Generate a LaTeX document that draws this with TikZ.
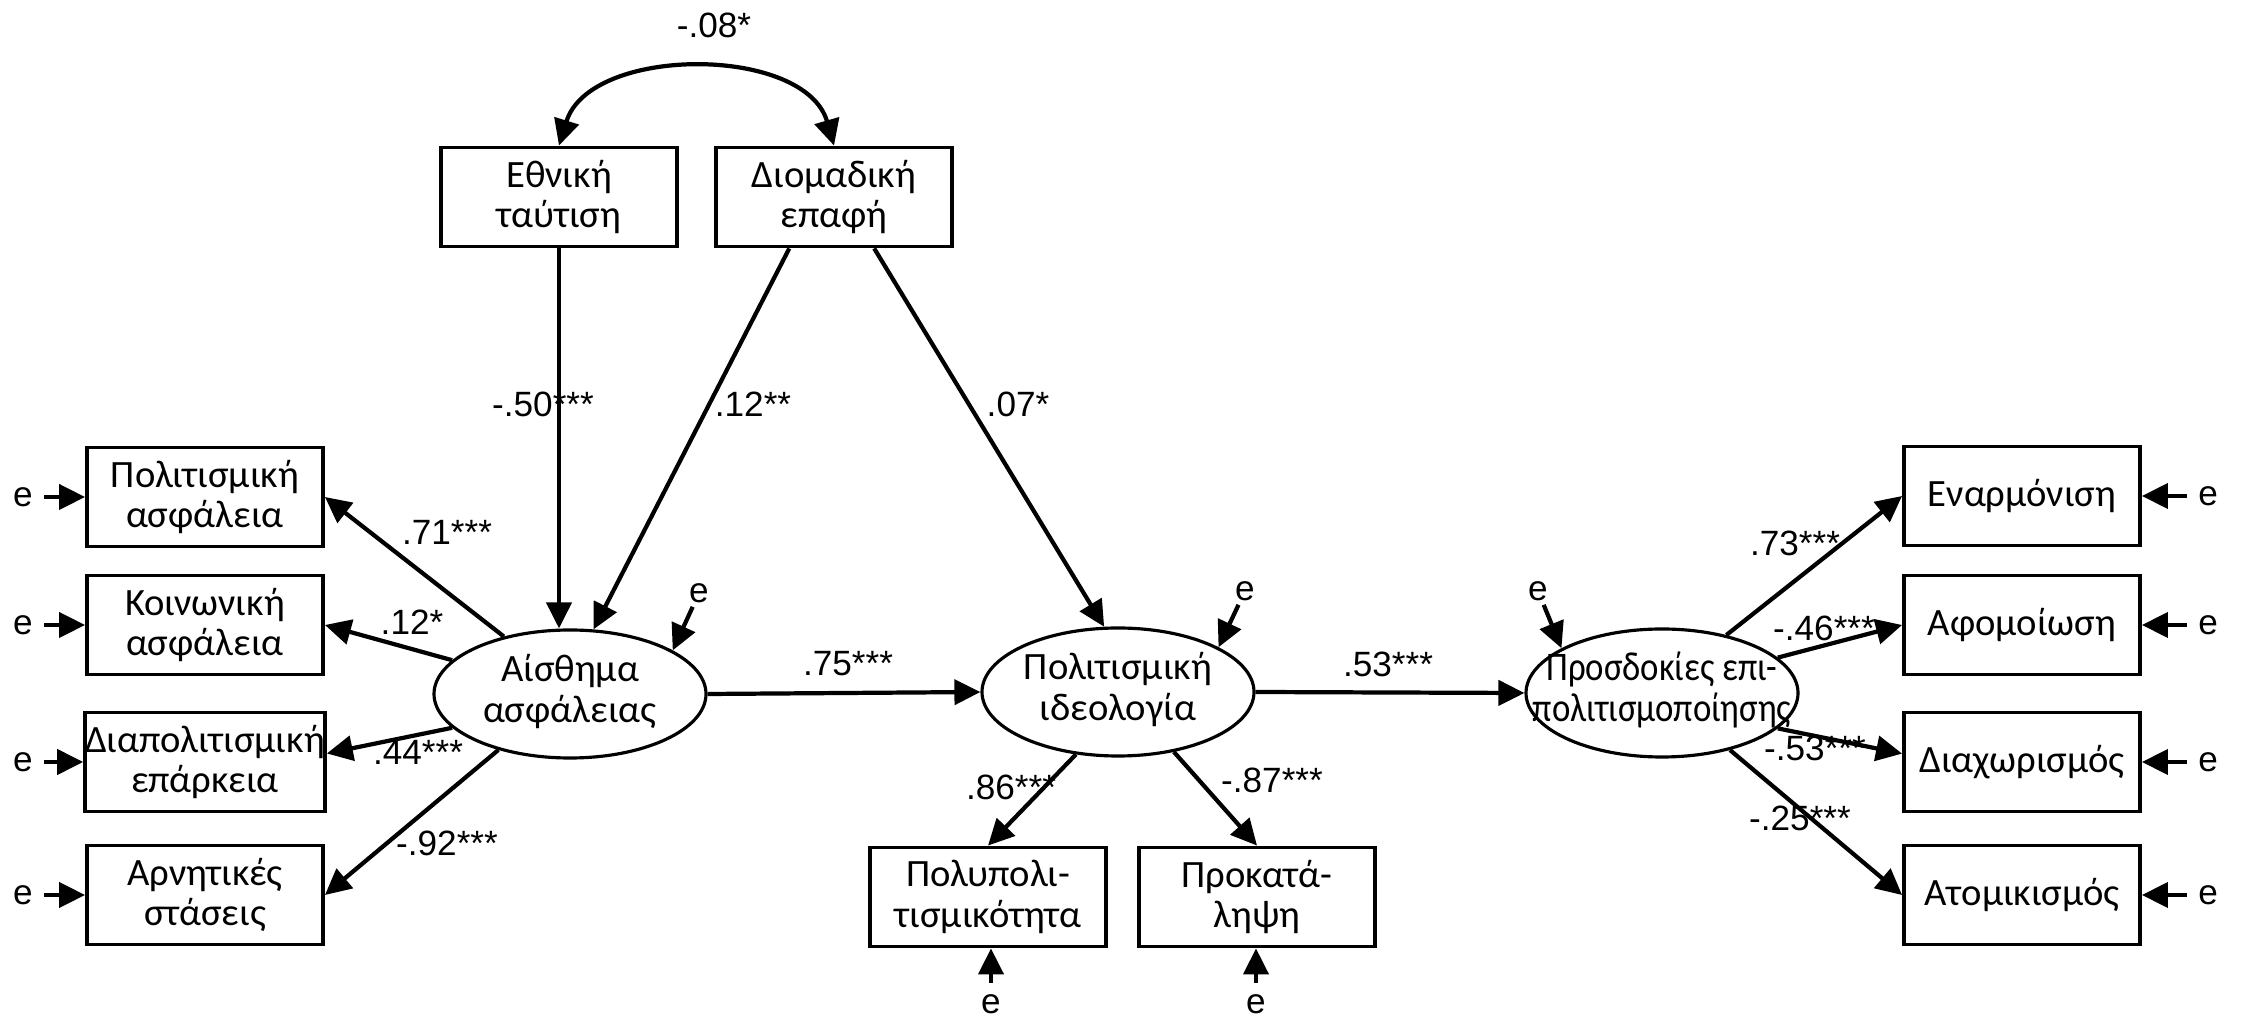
\documentclass[tikz,border=0pt]{standalone}
\usepackage{fontspec}
\usepackage{graphicx}
\setmainfont{Liberation Sans}
\newfontfamily\grfont{Carlito}
\usetikzlibrary{arrows.meta,shapes.geometric}
\newcommand{\intwo}[1]{\makebox[0pt]{\begin{tabular}{@{}c@{}}#1\end{tabular}}}

\begin{document}
\begin{tikzpicture}[x=0.1mm,y=-0.1mm,>={Triangle[length=2.6mm,width=2.5mm]},
    box/.style={draw,line width=1.1pt,minimum width=23.6mm,minimum height=9.9mm,inner sep=0pt,align=center,font=\grfont\fontsize{11}{11.5}\selectfont},
    lat/.style={draw,ellipse,line width=0.9pt,minimum width=27.2mm,minimum height=12.8mm,inner sep=0pt,font=\grfont\fontsize{11}{11.5}\selectfont},
    arr/.style={->,line width=1.2pt},
    coef/.style={font=\fontsize{10}{12}\selectfont,inner sep=1pt},
    err/.style={font=\fontsize{10}{12}\selectfont,inner sep=3pt}]
    \useasboundingbox (0,0) rectangle (2241,1019);
    \node[box] (pa) at (205,497) {Πολιτισμική\\ασφάλεια};
    \node[box] (ka) at (205,625) {Κοινωνική\\ασφάλεια};
    \node[box] (dp) at (205,762) {Διαπολιτισμική\\επάρκεια};
    \node[box] (ar) at (205,895) {Αρνητικές\\στάσεις};
    \node[box] (et) at (559,197) {Εθνική\\ταύτιση};
    \node[box] (dm) at (834,197) {Διομαδική\\επαφή};
    \node[lat] (ai) at (570,694) {\intwo{Αίσθημα\\ασφάλειας}};
    \node[lat] (id) at (1118,692) {\intwo{Πολιτισμική\\ιδεολογία}};
    \node[lat] (pr) at (1662,693) {\intwo{\scalebox{0.9}[1.05]{Προσδοκίες επι-}\\\scalebox{0.9}[1.05]{πολιτισμοποίησης}}};
    \node[box] (pp) at (988,897) {Πολυπολι-\\τισμικότητα};
    \node[box] (pk) at (1257,897) {Προκατά-\\ληψη};
    \node[box] (en) at (2022,496) {Εναρμόνιση};
    \node[box] (af) at (2022,625) {Αφομοίωση};
    \node[box] (dx) at (2022,762) {Διαχωρισμός};
    \node[box] (am) at (2022,895) {Ατομικισμός};

    \draw[<->,line width=1.2pt] (et.north) .. controls (590,45) and (805,45) .. (dm.north);
    \draw[arr] (et.south) -- (et.south |- ai.north);
    \draw[arr] (dm.229) -- (ai.70);
    \draw[arr] (dm.308) -- (id.102);
    \draw[arr] (ai.east) -- (id.west);
    \draw[arr] (id.east) -- (pr.west);
    \draw[arr] (ai.139) -- (pa.east);
    \draw[arr] (ai.164) -- (ka.east);
    \draw[arr] (ai.196) -- (dp.4);
    \draw[arr] (ai.218) -- (ar.east);
    \draw[arr] (id.236) -- (pp.north);
    \draw[arr] (id.313) -- (pk.north);
    \draw[arr] (pr.42) -- (en.west);
    \draw[arr] (pr.17) -- (af.west);
    \draw[arr] (pr.343) -- (dx.176);
    \draw[arr] (pr.320) -- (am.west);

    \node[err] (e1) at (23,497) {e};
    \node[err] (e2) at (23,625) {e};
    \node[err] (e3) at (23,762) {e};
    \node[err] (e4) at (23,895) {e};
    \node[err] (e5) at (2208,496) {e};
    \node[err] (e6) at (2208,625) {e};
    \node[err] (e7) at (2208,762) {e};
    \node[err] (e8) at (2208,895) {e};
    \node[err,inner sep=1pt] (e9) at (699,593) {e};
    \node[err,inner sep=1pt] (e10) at (1245,591) {e};
    \node[err,inner sep=1pt] (e11) at (1538,591) {e};
    \node[err] (e12) at (991,1004) {e};
    \node[err] (e13) at (1256,1004) {e};
    \draw[arr] (e1) -- (pa);
    \draw[arr] (e2) -- (ka);
    \draw[arr] (e3) -- (dp);
    \draw[arr] (e4) -- (ar);
    \draw[arr] (e5) -- (en);
    \draw[arr] (e6) -- (af);
    \draw[arr] (e7) -- (dx);
    \draw[arr] (e8) -- (am);
    \draw[arr] (e9) -- (ai.23);
    \draw[arr] (e10) -- (id.24);
    \draw[arr] (e11) -- (pr.156);
    \draw[arr] (e12) -- (e12 |- pp.south);
    \draw[arr] (e13) -- (e13 |- pk.south);

    \node[coef] (c1) at (714,25) {-.08*};
    \node[coef] (c2) at (543,404) {-.50***};
    \node[coef] (c3) at (753,404) {.12**};
    \node[coef] (c4) at (1018,404) {.07*};
    \node[coef] (c5) at (447,532) {.71***};
    \node[coef] (c6) at (412,622) {.12*};
    \node[coef] (c7) at (418,752) {.44***};
    \node[coef] (c8) at (447,843) {-.92***};
    \node[coef] (c9) at (848,664) {.75***};
    \node[coef] (c10) at (1388,664) {.53***};
    \node[coef] (c11) at (1011,787) {.86***};
    \node[coef] (c12) at (1272,780) {-.87***};
    \node[coef] (c13) at (1795,543) {.73***};
    \node[coef] (c14) at (1824,628) {-.46***};
    \node[coef] (c15) at (1815,748) {-.53***};
    \node[coef] (c16) at (1800,818) {-.25***};
\end{tikzpicture}
\end{document}
